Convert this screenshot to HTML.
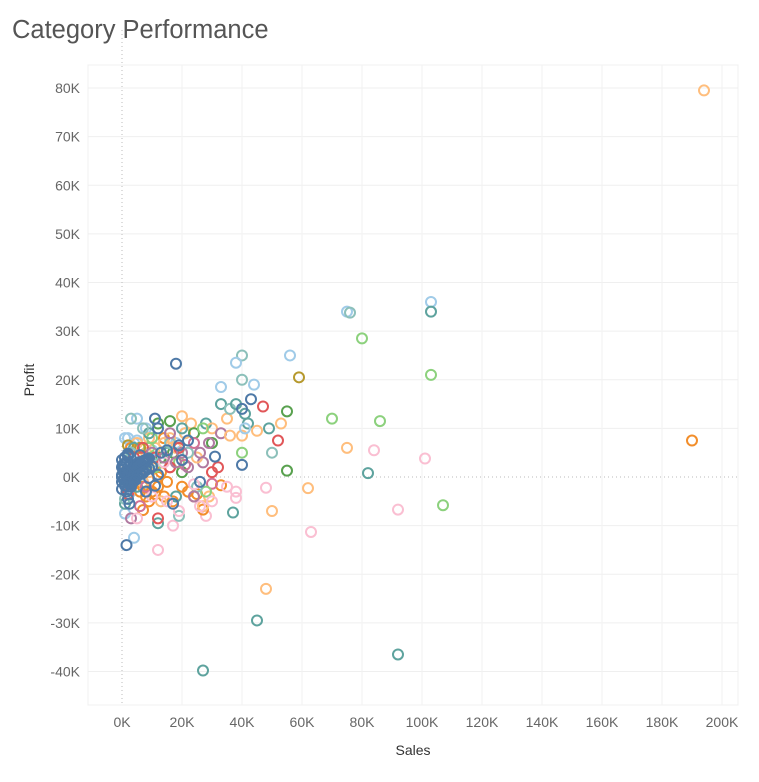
<!DOCTYPE html>
<html><head><meta charset="utf-8">
<style>
html,body{margin:0;padding:0;background:#fff;}
body{width:759px;height:777px;overflow:hidden;font-family:"Liberation Sans",sans-serif;}
</style></head>
<body>
<svg id="chart" width="759" height="777" viewBox="0 0 759 777" xmlns="http://www.w3.org/2000/svg">
<text x="12" y="38" font-size="25.5" fill="#555" font-family="Liberation Sans, sans-serif">Category Performance</text>
<g id="grid"></g>
<g id="axes"></g>
<g id="marks"></g>
<text transform="translate(34,380) rotate(-90)" text-anchor="middle" font-size="14" fill="#333">Profit</text>
<text x="413" y="755" text-anchor="middle" font-size="14" fill="#333">Sales</text>
</svg>
<script>
const xTicks=[0,20,40,60,80,100,120,140,160,180,200];
const yTicks=[-40,-30,-20,-10,0,10,20,30,40,50,60,70,80];
const palette=["#4e79a7","#a0cbe8","#f28e2b","#ffbe7d","#59a14f","#8cd17d","#b6992d","#5ea39e","#8cc0ba","#e15759","#d37295","#fabfd2","#b07aa1"];
// sales (K), profit (K), category index
const sales=[194,190,103,103,75,76,80,103,59,56,40,18,38,40,33,44,55,70,86,53,47,43,52,49,50,55,75,84,82,101,107,92,50,63,62,48,48,45,92,27,12,4,1.5,12,17,37,28,27,7,19,38,1,3,5,33,30,25,40,40,32,31,27,28,30,35,33,36,38,40,41,42,33,36,40,45,41,
0,1,2,3,4,5,6,7,8,1,2,3,4,5,6,7,8,0.5,1.5,2.5,3.5,4.5,5.5,0,1,2,3,0,0.5,0,0,1.5,2,13,17,19,12,22,8,12,26,20,11,15,2.5,6,9,7,
0.5,1,1.5,2,2.5,3,3.5,4,4.5,5,5.5,6,6.5,7,7.5,8,8.5,9,1,2,3,4,5,6,7,8,9,10,0.5,1.5,2.5,3.5,4.5,0,0,1,2,3,11,
1,2,1,4,3,7,10,15,18,21,8,5,2,13,
3,5,6,7,8,10,12,14,15,17,20,22,24,9,11,13,16,18,12,10,14,6,3,
1,2,4,6,8,11,14,16,21,23,25,18,20,7,9,13,27,29,
5,9,13,17,24,30,12,16,20,
3,8,11,14,19,27,10,
9,28,
2,6,11,15,20,4,9,18,
1,5,10,16,22,3,7,25,
1,3,7,11,16,19,4,30,2,
4,12,21,24,8,
2,6,10,15,19,26,30,35,38,14,24,
2,6,10,14,18,22,26,29,16,20,24];
const profit=[79.5,7.5,36,34,34,33.8,28.5,21,20.5,25,25,23.3,23.5,20,18.5,19,13.5,12,11.5,11,14.5,16,7.5,10,5,1.3,6,5.5,0.8,3.8,-5.8,-6.7,-7,-11.3,-2.3,-2.2,-23,-29.5,-36.5,-39.8,-15,-12.5,-14,-9.5,-10,-7.3,-8,-6.7,-6.8,-8,-4.3,-7.5,-8.5,-8.5,-1.7,-1.4,-3.5,2.5,5,2,4.2,3,11,10,12,15,14,15,14,13,11,9,8.5,8.5,9.5,10,
0,0.5,1,1.5,2,2.5,3,3.3,3.6,4,4.5,-0.5,0,0.5,1,1.5,2,2.5,3,1,2,2.5,3,3.5,4,-1,-1.5,-1,-0.5,2,-2.5,-3,-4.5,5,-5.5,6.5,10,7.5,-3,0.5,-1,3.5,12,5.5,-5.5,4.5,-0.2,0.8,1.5,-1.8,
0.2,0.4,0.7,1,1.2,1.4,1.7,2,2.2,2.4,2.7,3,3.2,3.4,3.6,3.8,4,4.2,-0.8,-0.3,0.2,0.6,1,1.4,1.8,2.2,2.6,3,-1.5,-1.2,-0.6,0,0.4,1,-2,-2,-1.8,-1.2,4.8,
8,7,6.5,-1.5,5.5,5,7,9,10,12,8,3,-3,7.5,
-3,-2,-4,-3,-2,-4,-1,-5,-2,-3,-4,-5,-3.5,1,2,3,0,2,8,6,6,1,0,
1,3,5,6,7,8,9,11,4,6,12.5,-1,1,-5,-6,-4,7,8,
4,5,9,7,11,11.5,1,-1.5,3,
2,4,3,10,8,6,-3,
6.5,6,
4,5,10,6,9,-4,-5.5,-2,
3,7,5,12,10,-2,-4.5,5,
6,4,2,6,4,1,-3.5,1.5,-8.5,
2.5,7,-2,-1,-6,
-4,-5,-7,-6,-5,-2,-3,3,-1.5,1,2,
5,4,3,2,5,7,9,5,-4,-3,8];
const cat=[3,2,1,7,1,8,5,5,6,1,8,0,1,8,1,1,4,5,5,3,9,0,9,7,8,4,3,11,7,11,5,11,3,11,3,11,3,7,7,7,11,1,0,7,11,7,11,2,2,8,11,1,12,11,2,10,2,0,5,9,0,12,7,3,3,7,8,7,0,7,7,12,3,3,3,1,
0,0,0,0,0,0,0,0,0,0,0,0,0,0,0,0,0,0,0,0,0,0,0,0,0,0,0,0,0,0,0,0,0,0,0,0,0,0,0,0,0,0,0,0,0,0,0,0,0,0,
0,0,0,0,0,0,0,0,0,0,0,0,0,0,0,0,0,0,0,0,0,0,0,0,0,0,0,0,0,0,0,0,0,0,0,0,0,0,0,
1,1,1,1,1,1,1,1,1,1,1,1,1,1,
2,2,2,2,2,2,2,2,2,2,2,2,2,2,2,2,2,2,2,2,2,2,2,
3,3,3,3,3,3,3,3,3,3,3,3,3,3,3,3,3,3,
4,4,4,4,4,4,4,4,4,
5,5,5,5,5,5,5,
6,6,
7,7,7,7,7,7,7,7,
8,8,8,8,8,8,8,8,
9,9,9,9,9,9,9,9,9,
10,10,10,10,10,
11,11,11,11,11,11,11,11,11,11,11,
12,12,12,12,12,12,12,12,12,12,12];

const NS="http://www.w3.org/2000/svg";
const PL=88,PR=738,PT=65,PB=705;
const xS=v=>122+v*3.0;
const yS=v=>477-v*4.8625;
const grid=document.getElementById('grid'),axes=document.getElementById('axes'),marks=document.getElementById('marks');
function mk(tag,attrs,parent){const e=document.createElementNS(NS,tag);for(const k in attrs)e.setAttribute(k,attrs[k]);parent.appendChild(e);return e;}
const fr=mk('rect',{x:PL,y:PT,width:PR-PL,height:PB-PT,fill:'none',stroke:'#f0f0f0'},grid);


yTicks.forEach(t=>{
  const y=yS(t);
  if(t!==0){const l=mk('line',{x1:PL,x2:PR,y1:y,y2:y,stroke:'#efefef','stroke-width':1},grid);
  
  }
  const tx=mk('text',{x:80,y:y+5,'text-anchor':'end','font-size':14,fill:'#666'},axes);
  
  
  tx.textContent=t+'K';
});
xTicks.forEach(t=>{
  const x=xS(t);
  if(t!==0){const l=mk('line',{x1:x,x2:x,y1:PT,y2:PB,stroke:'#f2f2f2','stroke-width':1},grid);
  
  }
  const tx=mk('text',{x:x,y:727,'text-anchor':'middle','font-size':14,fill:'#666'},axes);
  
  
  tx.textContent=t+'K';
});
const zx=mk('line',{x1:xS(0),x2:xS(0),y1:PT-35,y2:PB,stroke:'#bbb','stroke-dasharray':'1,3'},grid);


const zy=mk('line',{x1:PL,x2:PR,y1:yS(0),y2:yS(0),stroke:'#bbb','stroke-dasharray':'1,3'},grid);


function draw(i){
  const c=mk('circle',{cx:xS(sales[i]),cy:yS(profit[i]),r:5,fill:'none',stroke:palette[cat[i]],'stroke-width':2},marks);
  
  
}
for(let i=0;i<sales.length;i++) if(cat[i]!==0) draw(i);
for(let i=0;i<sales.length;i++) if(cat[i]===0) draw(i);
</script>
</body></html>
